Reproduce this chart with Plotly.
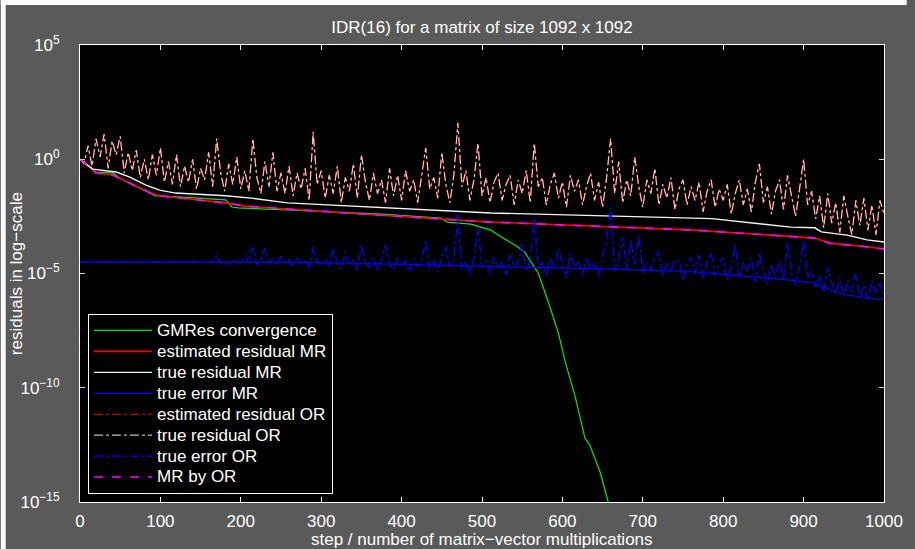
import plotly.graph_objects as go

# ---------------- data (log10 of residual / error values) -------------
gmres_steps = [0, 20, 41, 49, 66, 88, 94, 123, 181, 189, 197, 258, 375, 449, 457, 486, 498, 511,
               520, 541, 553, 562, 570, 583, 595, 603, 616, 628, 634, 647, 657, 662]
gmres_log = [0.0, -0.56, -0.6, -0.82, -1.13, -1.48, -1.6, -1.65, -1.78, -2.09, -2.13, -2.22, -2.4,
             -2.57, -2.75, -2.84, -2.97, -3.1, -3.32, -3.75, -4.06, -4.54, -4.98, -6.3, -7.6, -8.79,
             -10.4, -12.2, -12.5, -13.7, -15.0, -15.3]

est_mr_steps = [0, 20, 41, 60, 88, 99, 140, 181, 205, 258, 369, 511, 764, 914, 932, 981, 1000]
est_mr_log = [0.0, -0.6, -0.69, -1.0, -1.48, -1.6, -1.74, -1.91, -2.05, -2.18, -2.44, -2.75, -3.1,
              -3.45, -3.67, -3.84, -3.93]

true_mr_steps = [0, 16, 45, 62, 82, 99, 119, 181, 213, 258, 511, 764, 786, 884, 914, 922, 954, 979, 1000]
true_mr_log = [0.0, -0.43, -0.56, -0.78, -1.13, -1.35, -1.48, -1.6, -1.7, -1.91, -2.35, -2.57, -2.6,
               -2.97, -3.0, -3.18, -3.32, -3.53, -3.62]

err_mr_steps = [0, 250, 400, 511, 650, 764, 820, 881, 914, 934, 954, 980, 1000]
err_mr_log = [-4.5, -4.5, -4.6, -4.68, -4.8, -4.93, -5.1, -5.28, -5.42, -5.72, -5.94, -6.05, -6.16]

mr_by_or_steps = [0, 20, 41, 60, 88, 99, 140, 181, 205, 258, 369, 511, 764, 914, 932, 981, 1000]
mr_by_or_log = [0.0, -0.6, -0.69, -1.0, -1.48, -1.6, -1.74, -1.91, -2.05, -2.18, -2.44, -2.75, -3.1,
                -3.45, -3.67, -3.84, -3.93]

or_steps = list(range(0, 1001, 5))
res_or_log = [
    0.0, -0.2, 0.6, -0.3, 0.9, 0.1, 1.1, -0.4, 0.8, 0.2,
    1.0, -0.6, 0.3, -0.5, 0.4, -0.8, 0.0, -0.9, 0.2, -0.7,
    0.5, -1.0, -0.1, -1.1, 0.2, -1.2, -0.3, -1.0, 0.0, -1.3,
    -0.4, -0.9, 0.3, -1.2, 0.9, -0.6, -1.4, -0.2, -1.1, 0.1,
    -1.3, -0.5, -1.4, 0.9, -0.8, -1.5, -0.1, -1.2, 0.3, -1.4,
    -0.6, -1.5, -0.3, -1.6, -0.6, -1.3, -0.4, -1.8, 1.2, -1.1,
    -0.5, -1.7, -0.7, -1.5, -0.3, -1.9, -0.8, -1.4, -0.2, -1.7,
    0.2, -1.0, -1.8, -0.6, -1.5, -0.9, -1.9, -0.4, -1.6, -0.7,
    -1.8, -0.5, -1.4, -0.9, -1.9, -0.6, 0.5, -1.3, -0.8, -1.7,
    0.3, -1.1, -1.9, -0.7, 1.6, -1.2, -0.5, -1.8, -0.9, 0.7,
    -1.6, -0.8, -1.9, -1.0, -0.6, -1.8, -1.1, -0.7, -2.0, -0.9,
    -1.5, -0.5, -1.9, 0.7, -1.2, -0.8, -2.0, -1.1, -0.6, -1.7,
    -1.0, -2.1, -0.7, -1.4, -0.9, -2.0, -1.2, -0.6, -1.8, -1.0,
    -2.1, -0.8, 0.9, -1.5, -0.1, -1.9, -0.9, -1.6, 0.1, -1.2,
    -2.1, -0.9, -1.5, -0.4, -2.0, -1.1, -1.7, -0.8, -2.2, -1.3,
    -0.9, -2.0, -1.2, -1.8, -1.0, -2.3, -1.4, -0.9, -2.1, -1.3,
    -1.8, -1.1, -2.4, -1.5, -0.9, -2.0, -1.3, -2.3, -1.0, -0.2,
    -1.9, -1.2, -2.4, -1.4, -0.9, -2.2, -0.7, -1.6, -2.5, -1.3,
    0.0, -2.0, -1.4, -2.6, -1.6, -3.0, -1.5, -2.8, -1.9, -3.2,
    -1.6, -2.5, -3.3, -1.8, -2.9, -1.7, -3.1, -2.0, -3.3, -1.8,
    -2.4,
]
err_or_log = [
    -4.5, -4.5, -4.5, -4.5, -4.5, -4.5, -4.5, -4.5, -4.5, -4.5,
    -4.5, -4.5, -4.5, -4.5, -4.5, -4.5, -4.5, -4.5, -4.5, -4.5,
    -4.5, -4.5, -4.5, -4.5, -4.5, -4.5, -4.5, -4.5, -4.5, -4.5,
    -4.5, -4.5, -4.5, -4.5,
    -4.2, -4.55, -4.5, -4.6, -4.45, -4.5, -4.55, -4.2, -4.5, -3.85,
    -4.6, -4.45, -3.9, -4.55, -4.4, -4.6, -4.25, -4.55, -4.4, -4.7,
    -4.3, -4.6, -4.45, -4.75, -3.85, -4.5, -4.65, -4.35, -4.7, -3.9,
    -4.55, -4.8, -4.05, -4.6, -4.4, -4.85, -3.75, -4.5, -4.75, -4.3,
    -4.9, -4.4, -3.75, -4.6, -4.85, -4.3, -4.7, -4.45, -4.95, -4.35,
    -4.7, -4.5, -3.55, -4.8, -4.4, -4.95, -4.3, -3.85, -4.7, -4.45,
    -2.4, -4.8, -4.5, -5.0, -4.35, -3.0, -4.75, -4.45, -5.0, -4.3,
    -4.8, -4.5, -5.05, -4.2, -4.7, -4.45, -3.7, -4.9, -4.4, -2.55,
    -4.8, -4.5, -5.1, -4.35, -4.75, -3.9, -4.6, -5.2, -4.1, -4.7,
    -4.45, -5.1, -4.3, -4.8, -4.5, -5.15, -4.25, -3.55, -2.1, -4.9,
    -4.4, -3.4, -4.85, -3.55, -4.6, -3.3, -5.0, -4.5, -4.85, -4.3,
    -4.05, -5.1, -4.55, -4.9, -4.4, -4.45, -5.3, -4.6, -4.3, -5.0,
    -4.2, -5.2, -4.5, -4.1, -5.1, -4.6, -4.3, -5.3, -4.7, -3.75,
    -5.2, -4.5, -4.9, -4.3, -5.4, -4.1, -4.9, -5.5, -4.6, -5.2,
    -4.4, -5.3, -3.65, -5.0, -5.5, -4.7, -3.55, -5.2, -4.9, -5.6,
    -5.1, -5.8, -4.75, -5.4, -5.9, -5.2, -6.0, -5.3, -5.8, -5.0,
    -6.1, -5.5, -6.2, -5.3, -5.9, -5.4, -6.1,
]

y_tick_exps = [-15, -10, -5, 0, 5]
y_tick_text = ["10<sup>\u221215</sup>", "10<sup>\u221210</sup>", "10<sup>\u22125</sup>",
               "10<sup>0</sup>", "10<sup>5</sup>"]
x_ticks = [0, 100, 200, 300, 400, 500, 600, 700, 800, 900, 1000]

title_text = "IDR(16) for a matrix of size 1092 x 1092"
x_title = "step / number of matrix\u2212vector multiplications"
y_title = "residuals in log\u2212scale"
legend_names = ["GMRes convergence", "estimated residual MR", "true residual MR", "true error MR",
                "estimated residual OR", "true residual OR", "true error OR", "MR by OR"]


def lin(vals):
    return [10 ** v for v in vals]


FONT = "Liberation Sans, Arial, Helvetica, sans-serif"
FS = 17

fig = go.Figure()
traces = [
    (gmres_steps, gmres_log, "#00ee00", "solid", 1.2),
    (est_mr_steps, est_mr_log, "#ff0000", "solid", 1.6),
    (true_mr_steps, true_mr_log, "#f4f4f4", "solid", 1.4),
    (err_mr_steps, err_mr_log, "#0000ff", "solid", 1.2),
    (or_steps, res_or_log, "#ff0000", "dashdot", 1.2),
    (or_steps, res_or_log, "rgba(255,255,255,0.75)", "dashdot", 1.2),
    (or_steps, err_or_log, "#0000ff", "dashdot", 1.3),
    (mr_by_or_steps, mr_by_or_log, "#ff00ff", "dash", 1.6),
]
for name, (xs, ys, col, dash, w) in zip(legend_names, traces):
    fig.add_trace(go.Scatter(
        x=xs, y=lin(ys), mode="lines",
        name="<span style='font-size:%dpx'>%s</span>" % (FS, name),
        line=dict(color=col, dash=dash, width=w),
    ))

fig.update_layout(
    width=915, height=549,
    margin=dict(l=80, r=23, t=45, b=47),
    paper_bgcolor="#5a5a5a",
    plot_bgcolor="#000000",
    font=dict(family=FONT, color="#ffffff", size=FS),
    title=dict(text=title_text, x=0.5, xref="paper",
               xanchor="center", y=1 - 27 / 549, yref="container", yanchor="middle",
               font=dict(size=FS, color="#ffffff", family=FONT)),
    showlegend=True,
    legend=dict(x=0.01, y=0.0175, xanchor="left", yanchor="bottom",
                bgcolor="#000000", bordercolor="#ffffff", borderwidth=1,
                font=dict(size=13.8, color="#ffffff", family=FONT),
                itemwidth=58),
    annotations=[
        dict(text=x_title, xref="paper", yref="paper", x=0.5, y=(502 - 539) / 457,
             xanchor="center", yanchor="middle", showarrow=False,
             font=dict(size=FS, color="#ffffff", family=FONT)),
        dict(text=y_title, xref="paper", yref="paper", x=(16 - 80) / 812, y=0.5,
             xanchor="center", yanchor="middle", textangle=-90, showarrow=False,
             font=dict(size=FS, color="#ffffff", family=FONT)),
    ],
)
fig.update_xaxes(
    range=[0, 1000], tickvals=x_ticks, ticks="inside", ticklen=5, tickcolor="#ffffff",
    showline=True, linecolor="#ffffff", linewidth=1, mirror="ticks", showgrid=False,
    zeroline=False, ticklabelstandoff=4, tickfont=dict(size=FS),
)
fig.update_yaxes(
    type="log", range=[-15, 5], tickvals=[10 ** e for e in y_tick_exps], ticktext=y_tick_text,
    ticks="inside", ticklen=5, tickcolor="#d0d0d0",
    showline=True, linecolor="#ffffff", linewidth=1, mirror="ticks", showgrid=False,
    zeroline=False, ticklabelstandoff=16, tickfont=dict(size=FS),
)

# thin white page border at top and left of the picture
fig.add_shape(type="rect", xref="paper", yref="paper", x0=-80 / 812, x1=-75 / 812,
              y0=-47 / 457, y1=502 / 457, fillcolor="#fafafa", line=dict(width=0), layer="above")
fig.add_shape(type="rect", xref="paper", yref="paper", x0=-80 / 812, x1=835 / 812,
              y0=497 / 457, y1=502 / 457, fillcolor="#fafafa", line=dict(width=0), layer="above")

fig.write_html("out.html")
